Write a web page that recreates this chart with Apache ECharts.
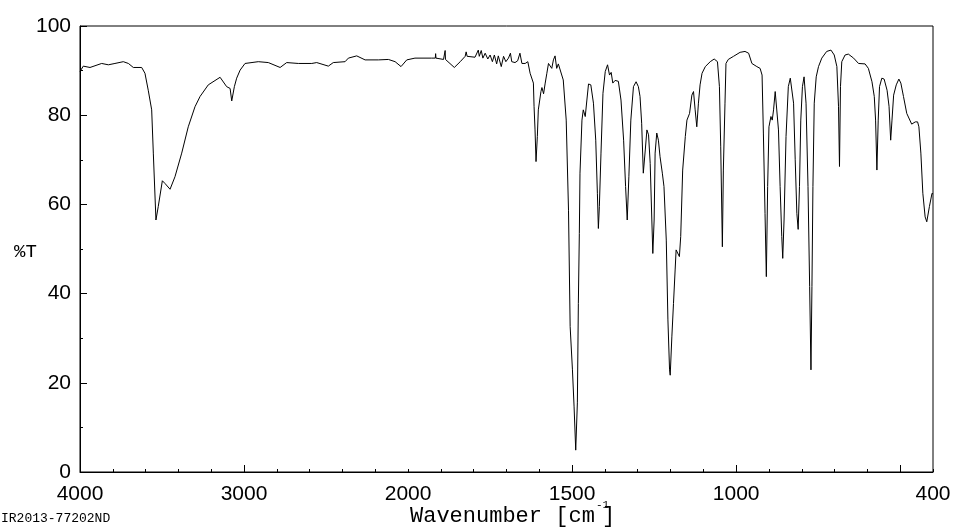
<!DOCTYPE html>
<html>
<head>
<meta charset="utf-8">
<script src="https://cdn.jsdelivr.net/npm/echarts@6/dist/echarts.min.js"></script>
<style>
html,body{margin:0;padding:0;background:#fff;}
#chart{width:959px;height:528px;}
</style>
</head>
<body>
<div id="chart"></div>
<script>
// Wavenumber (cm-1), decreasing
const wavenumbers = [
4000,3994,3980,3939,3868,3827,3787,3736,3705,3675,3624,3604,3584,3563,3553,3537,3523,3498,3482,3451,
3421,3380,3340,3299,3268,3218,3146,3106,3085,3075,3059,3045,3024,2994,2913,2852,2780,2740,2669,2587,
2557,2486,2456,2384,2364,2313,2262,2181,2120,2079,2043,2008,1979,1928,1917,1916,1915,1892,1888,1887,
1886,1859,1841,1826,1823,1820,1796,1786,1783,1777,1772,1765,1757,1750,1743,1737,1730,1725,1716,1709,
1702,1694,1688,1684,1674,1666,1659,1653,1643,1635,1628,1618,1616,1613,1610,1606,1603,1595,1592,1587,
1582,1577,1572,1562,1557,1552,1547,1542,1537,1527,1518,1511,1506,1499,1494,1489,1484,1481,1478,1476,
1470,1466,1460,1455,1450,1443,1435,1428,1423,1420,1417,1412,1406,1399,1392,1386,1381,1376,1369,1359,
1351,1343,1337,1332,1327,1321,1313,1305,1298,1293,1288,1283,1277,1272,1267,1262,1257,1254,1250,1247,
1242,1237,1232,1225,1220,1213,1208,1203,1201,1196,1191,1186,1183,1178,1173,1169,1163,1155,1150,1142,
1135,1130,1125,1120,1115,1110,1104,1094,1079,1067,1057,1051,1047,1042,1039,1034,1031,1024,1008,988,
973,962,952,937,927,921,917,912,908,904,900,894,890,886,881,876,871,866,861,858,
854,848,841,835,830,825,820,815,811,807,803,798,793,787,781,776,772,769,766,762,
756,749,739,724,711,701,693,688,685,682,678,668,658,642,627,607,597,586,579,575,
571,567,563,556,549,540,534,529,525,520,512,504,498,490,480,465,454,447,443,437,
431,424,419,411,403,400
];
// Transmittance (%T)
const transmittance = [
89.8,90.2,91.0,90.7,91.6,91.3,91.6,92.0,91.6,90.7,90.7,89.4,85.6,81.2,71.5,56.5,59.5,65.3,64.7,63.4,
66.2,71.5,77.4,81.9,84.2,86.8,88.5,86.4,86.0,83.2,86.4,88.3,90.1,91.6,92.0,91.8,90.7,91.8,91.6,91.6,
91.8,91.0,91.8,92.0,92.8,93.3,92.4,92.4,92.5,92.0,90.9,92.4,92.8,92.8,92.8,93.8,92.8,92.5,92.5,94.5,
92.5,90.7,92.0,93.2,94.2,93.2,93.0,94.6,93.2,94.5,92.8,93.9,92.6,93.5,92.0,93.5,91.5,93.3,90.9,93.2,
92.0,92.8,93.9,92.0,91.8,92.2,93.9,91.6,91.6,92.0,89.4,87.2,82.0,76.7,69.6,75.2,81.2,85.3,86.2,84.8,
87.2,89.4,91.6,90.5,92.4,93.3,90.5,91.5,91.3,87.9,78.9,58.7,32.6,22.9,14.6,4.9,15.5,37.8,53.5,67.0,
78.9,81.2,79.7,83.4,87.0,86.8,82.7,74.4,62.5,54.6,59.5,71.5,84.9,89.8,91.3,89.0,89.6,87.2,87.8,87.6,
83.4,74.4,64.0,56.5,66.2,78.9,86.4,87.5,86.4,84.2,78.2,67.0,72.2,76.7,75.6,69.2,56.5,49.0,56.5,71.5,
76.0,74.4,70.7,67.0,64.0,52.0,34.1,22.9,21.7,30.3,37.8,45.3,49.8,50.2,48.3,52.8,67.7,75.2,78.9,80.4,
84.5,85.3,81.2,77.4,82.7,86.8,89.4,90.9,92.0,92.6,92.0,86.4,72.9,50.5,67.7,82.7,91.6,92.5,93.2,94.1,
94.3,93.9,91.6,90.9,90.5,89.0,76.0,58.0,43.8,64.0,77.4,79.7,78.9,81.2,85.3,84.9,76.7,64.0,52.8,47.9,
56.5,75.2,86.4,88.3,87.9,82.7,70.0,58.0,54.4,64.0,78.9,86.4,88.6,82.7,64.0,41.6,22.9,41.6,64.0,82.7,
88.6,90.9,92.8,94.3,94.6,93.5,90.9,82.0,68.5,86.4,92.0,93.5,93.7,92.8,91.6,91.5,90.5,87.5,84.2,78.9,
67.7,78.9,86.4,88.3,88.1,85.6,82.0,74.4,78.9,84.5,86.8,88.1,87.2,84.2,80.4,78.0,78.5,78.5,77.4,71.5,
62.5,57.2,56.1,59.5,62.5,62.3
];
// X tick labels (wavenumbers shown) and Y tick labels
const xTickLabels = [4000, 3000, 2000, 1500, 1000, 400];
const xLongTicks = [3000, 1500, 1000, 500];
const yTickLabels = [0, 20, 40, 60, 80, 100];

// Piecewise axis: 200 cm-1 per unit above 2000, 100 cm-1 per unit below
function toT(w) { return w >= 2000 ? (4000 - w) / 200 : 10 + (2000 - w) / 100; }

const labelPos = {};
xTickLabels.forEach(w => { labelPos[Math.round(toT(w) * 1000)] = String(w); });

const data = wavenumbers.map((w, i) => [toT(w), transmittance[i]]);

const chart = echarts.init(document.getElementById('chart'), null, {renderer: 'canvas'});
const black = '#000';
chart.setOption({
  animation: false,
  backgroundColor: '#fff',
  grid: {left: 80, right: 26, top: 26, bottom: 56, show: true, borderColor: black, borderWidth: 1, backgroundColor: 'transparent'},
  xAxis: [{
    type: 'value', min: 0, max: 26, interval: 1, position: 'bottom',
    axisLine: {show: true, lineStyle: {color: black, width: 1}},
    axisTick: {show: true, inside: true, length: 3, lineStyle: {color: black}},
    axisLabel: {
      interval: 0, showMinLabel: true, showMaxLabel: true,
      formatter: v => labelPos[Math.round(v * 1000)] || '',
      fontSize: 21, color: black, fontFamily: 'Liberation Sans, Arial, sans-serif', margin: 12
    },
    splitLine: {show: false}
  }, {
    type: 'value', min: 0, max: 26, interval: 5, position: 'bottom', offset: 0,
    axisLine: {show: false},
    axisTick: {show: true, inside: true, length: 7, lineStyle: {color: black}, customValues: xLongTicks.map(toT)},
    axisLabel: {show: false},
    splitLine: {show: false}
  }],
  yAxis: {
    type: 'value', min: 0, max: 100, interval: 20,
    axisLine: {show: true, lineStyle: {color: black, width: 1}},
    axisTick: {show: true, inside: true, length: 7, lineStyle: {color: black}},
    minorTick: {show: true, splitNumber: 2, length: 3, lineStyle: {color: black}},
    axisLabel: {fontSize: 21, color: black, fontFamily: 'Liberation Sans, Arial, sans-serif', margin: 9,
      formatter: v => yTickLabels.indexOf(v) >= 0 ? String(v) : ''},
    splitLine: {show: false}
  },
  series: [{
    type: 'line', xAxisIndex: 0, data: data, symbol: 'none', showSymbol: false,
    lineStyle: {color: black, width: 1}, silent: true
  }],
  graphic: [
    {type: 'text', left: 14, top: 242, style: {text: '%T', font: '19px "Liberation Mono", "Courier New", monospace', fill: black}},
    {type: 'text', left: 410, top: 505, style: {text: 'Wavenumber [cm', font: '22px "Liberation Mono", "Courier New", monospace', fill: black}},
    {type: 'text', left: 596, top: 500, style: {text: '-1', font: '11px "Liberation Mono", "Courier New", monospace', fill: black}},
    {type: 'text', left: 602, top: 505, style: {text: ']', font: '22px "Liberation Mono", "Courier New", monospace', fill: black}},
    {type: 'text', left: 1, top: 512, style: {text: 'IR2013-77202ND', font: '13px "Liberation Mono", "Courier New", monospace', fill: black}}
  ]
});
</script>
</body>
</html>
